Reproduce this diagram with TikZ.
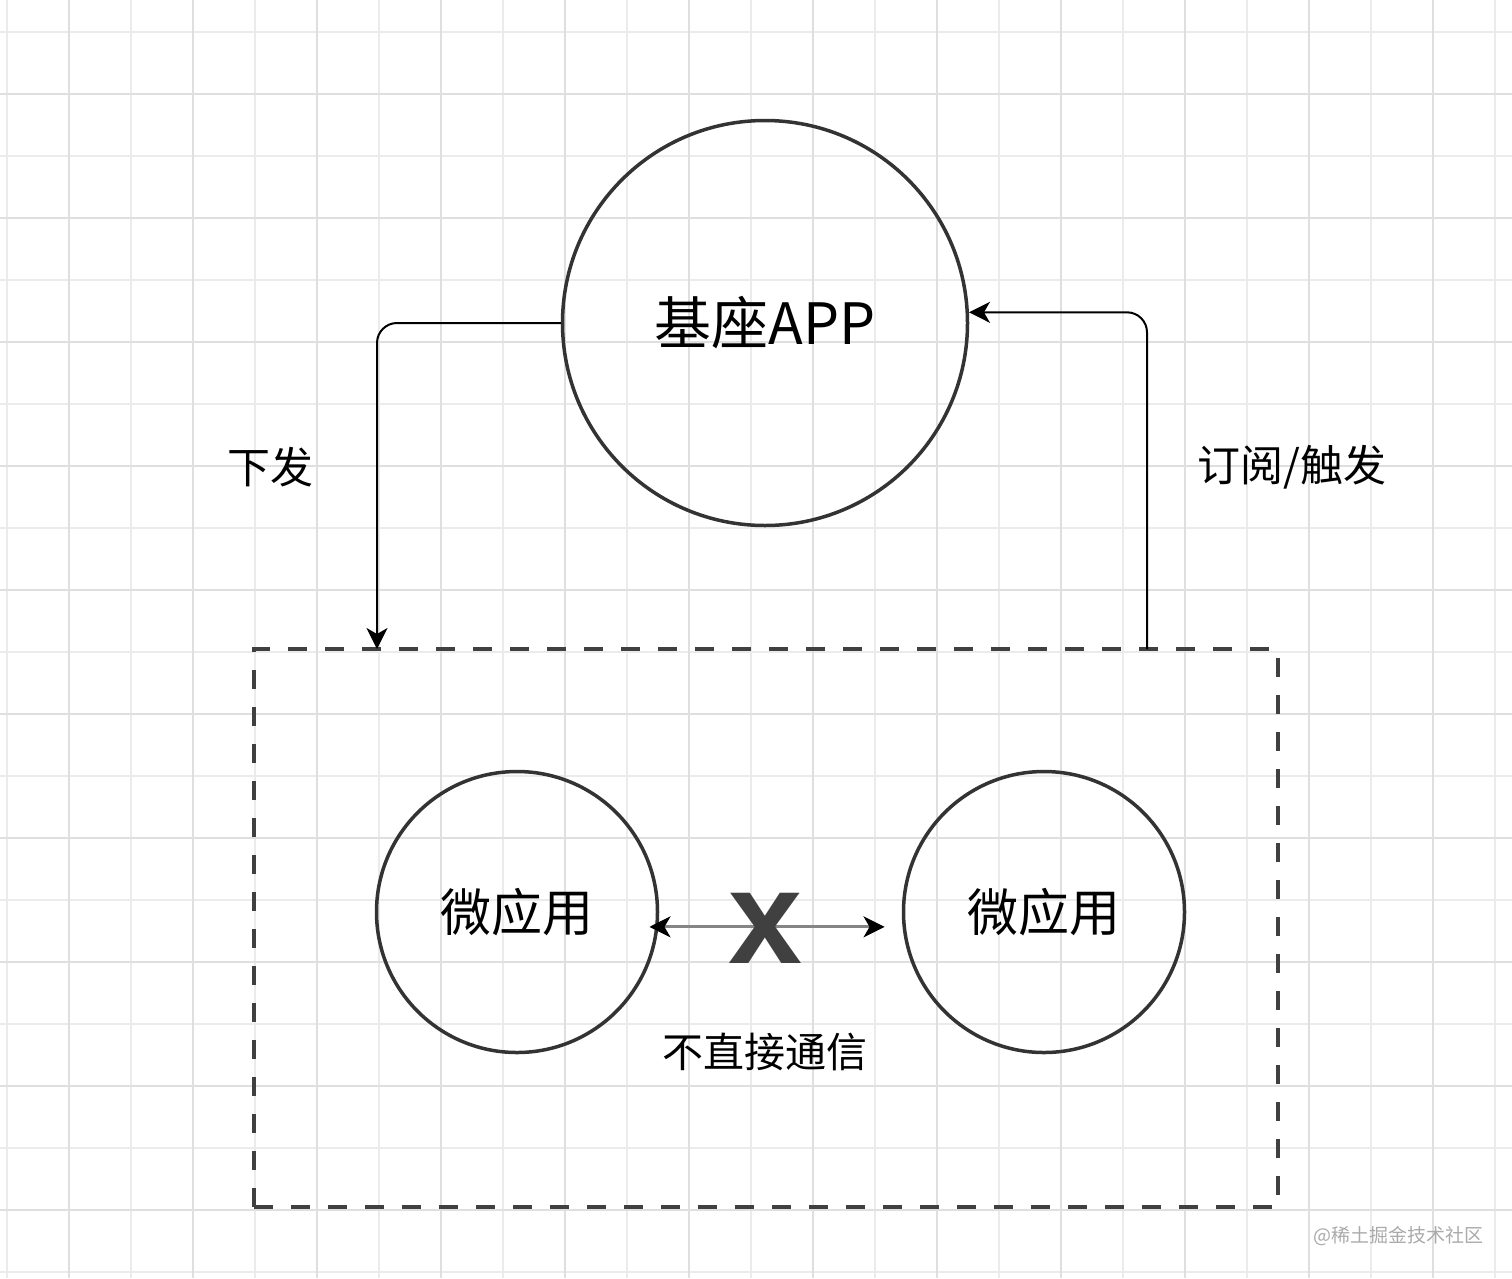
\documentclass[tikz,border=0pt]{standalone}
\usepackage{fontspec}
\setmainfont{Liberation Sans}
\newfontfamily\cjk{Noto Sans CJK SC}
\usetikzlibrary{arrows.meta}

\definecolor{rimgray}{HTML}{333333}
\definecolor{dashgray}{HTML}{404040}
\definecolor{linkgray}{HTML}{858585}
\definecolor{gridmajor}{HTML}{DFDFDF}
\definecolor{gridminor}{HTML}{EBEBEB}
\definecolor{markgray}{HTML}{AAAAAA}

\tikzset{
	bubble/.style={circle, draw=rimgray, line width=3.5pt, inner sep=0pt, font=\cjk\fontsize{51}{51}\selectfont},
	flow/.style={draw=black, line width=2pt, rounded corners=20pt, -{Stealth[length=21pt,width=21pt,inset=6pt]}},
	note/.style={font=\cjk\fontsize{43}{43}\selectfont},
}

\begin{document}
\begin{tikzpicture}[x=1pt, y=-1pt]
	\useasboundingbox (0,0) rectangle (1512,1278);
	\fill[white] (0,0) rectangle (1512,1278);

	% background grid
	\foreach \k in {0,...,24}
		\draw[gridminor, line width=1.5pt] ({7+62*\k},0) -- ({7+62*\k},1278);
	\foreach \k in {0,...,20}
		\draw[gridminor, line width=1.5pt] (0,{32+62*\k}) -- (1512,{32+62*\k});
	\foreach \k in {0,...,11}
		\draw[gridmajor, line width=2pt] ({69+124*\k},0) -- ({69+124*\k},1278);
	\foreach \k in {0,...,9}
		\draw[gridmajor, line width=2pt] (0,{94+124*\k}) -- (1512,{94+124*\k});

	% host app and the group of micro apps
	\node[bubble, minimum size=405pt, font=\cjk\fontsize{57}{57}\selectfont] (base) at (765,323) {基座APP};
	\node[draw=dashgray, line width=4.5pt, dash pattern=on 19pt off 18pt, minimum width=1024pt, minimum height=558pt, inner sep=0pt] (group) at (766,928) {};
	\node[bubble, minimum size=281pt] (appa) at (517,912) {微应用};
	\node[bubble, minimum size=281pt] (appb) at (1044,912) {微应用};

	% ends of the connectors on the dashed box
	\coordinate (dropin) at (377,649);
	\coordinate (pickup) at (1147,649);

	\draw[flow] (base.west) -| (dropin);
	\draw[flow] (pickup) |- (base.3.7);

	% no direct link between micro apps
	\draw[linkgray, line width=3pt, shorten <=-9pt, shorten >=18pt,
		{Stealth[length=21pt,width=21pt,inset=6pt,color=black]}-{Stealth[length=21pt,width=21pt,inset=6pt,color=black]}]
		(appa.-6.6) -- (appb.186.6);
	\node[inner sep=0pt, text=dashgray, font=\bfseries\fontsize{133}{133}\selectfont] (cross) at (765,928) {x};

	\node[note] (send) at (270,467) {下发};
	\node[note] (listen) at (1292,467) {订阅/触发};
	\node[note, font=\cjk\fontsize{41}{41}\selectfont] (nolink) at (765,1052) {不直接通信};
	\node[text=markgray, font=\cjk\fontsize{19}{19}\selectfont] (mark) at (1398,1236) {@稀土掘金技术社区};
\end{tikzpicture}
\end{document}
